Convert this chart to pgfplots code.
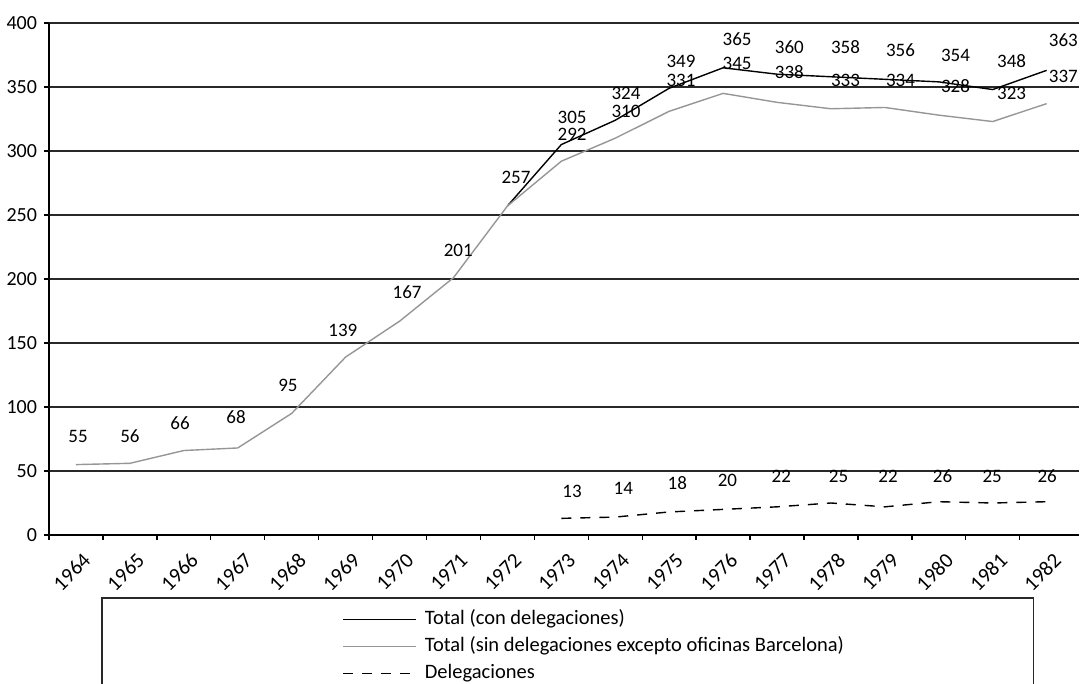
\documentclass[border=0pt]{standalone}
\usepackage{fontspec}
\setmainfont{Carlito}
\usepackage{pgfplots}
\usepackage{pgfplotstable}
\pgfplotsset{compat=1.18}
\definecolor{grisclaro}{RGB}{150,150,150}
\definecolor{rejilla}{RGB}{40,40,40}
\tikzset{lab/.style={font=\fontsize{9.5}{11}\selectfont, inner sep=0pt, anchor=center}}

% x = 0 es 1964, 18 es 1982
\pgfplotstableread{
x y
8 257
9 305
10 324
11 349
12 365
13 360
14 358
15 356
16 354
17 348
18 363
}\condeleg

\pgfplotstableread{
x y
0 55
1 56
2 66
3 68
4 95
5 139
6 167
7 201
8 257
9 292
10 310
11 331
12 345
13 338
14 333
15 334
16 328
17 323
18 337
}\sindeleg

\pgfplotstableread{
x y
9 13
10 14
11 18
12 20
13 22
14 25
15 22
16 26
17 25
18 26
}\deleg

\begin{document}
\begin{tikzpicture}
\begin{axis}[
  name=ax,
  scale only axis,
  width=515pt, height=256pt,
  xmin=-0.5, xmax=18.6, ymin=0, ymax=400,
  axis x line*=bottom, axis y line*=left,
  axis line style={black, line width=0.8pt},
  tick align=outside,
  xtick={0,...,18},
  xticklabels={1964,1965,1966,1967,1968,1969,1970,1971,1972,1973,1974,1975,1976,1977,1978,1979,1980,1981,1982},
  minor xtick={-0.5,0.5,...,17.5},
  major x tick style={draw=none},
  minor x tick style={black, line width=0.7pt},
  minor tick length=2.5pt,
  major tick length=2.5pt,
  ytick={0,50,...,400},
  y tick style={black, line width=0.7pt},
  ymajorgrids,
  grid style={rejilla, line width=0.8pt},
  xticklabel style={rotate=45, anchor=north east, inner sep=1pt, xshift=-1pt, yshift=-5pt,
    font=\fontsize{10.5}{12}\selectfont},
  yticklabel style={font=\fontsize{10}{12}\selectfont},
  /pgf/number format/assume math mode=true,
  legend style={at={(axis description cs:0.2845,-0.1406)}, anchor=north west,
    draw=none, fill=none, inner sep=0pt, row sep=1.5pt,
    nodes={inner sep=1pt, text height=7.5pt, text depth=2.5pt},
    /tikz/every odd column/.append style={column sep=3pt},
    font=\fontsize{10.25}{12}\selectfont},
  legend cell align=left,
  legend image code/.code={\draw[#1] (0pt,0pt) -- (36.5pt,0pt);},
  clip=false,
]
\addplot[black, line width=0.7pt] table[x=x, y=y] {\condeleg};
\addlegendentry{Total (con delegaciones)}
\addplot[grisclaro, line width=0.7pt] table[x=x, y=y] {\sindeleg};
\addlegendentry{Total (sin delegaciones excepto oficinas Barcelona)}
\addplot[black, line width=0.7pt, dash pattern=on 5pt off 4.5pt] table[x=x, y=y] {\deleg};
\addlegendentry{Delegaciones}

% etiquetas de datos
\node[lab] at (axis cs:0.04,77.3) {55};
\node[lab] at (axis cs:1.0,77.3) {56};
\node[lab] at (axis cs:1.93,87.5) {66};
\node[lab] at (axis cs:2.97,92.2) {68};
\node[lab] at (axis cs:3.93,117.2) {95};
\node[lab] at (axis cs:4.95,160.2) {139};
\node[lab] at (axis cs:6.14,189.8) {167};
\node[lab] at (axis cs:7.09,222.7) {201};
\node[lab] at (axis cs:8.16,279.7) {257};

\node[lab] at (axis cs:9.20,326.6) {305};
\node[lab] at (axis cs:10.20,345.3) {324};
\node[lab] at (axis cs:11.22,370.3) {349};
\node[lab] at (axis cs:12.26,387.5) {365};
\node[lab] at (axis cs:13.23,381.3) {360};
\node[lab] at (axis cs:14.27,381.3) {358};
\node[lab] at (axis cs:15.29,378.9) {356};
\node[lab] at (axis cs:16.31,375.0) {354};
\node[lab] at (axis cs:17.35,370.3) {348};
\node[lab] at (axis cs:18.31,386.7) {363};

\node[lab] at (axis cs:9.20,313.3) {292};
\node[lab] at (axis cs:10.20,331.3) {310};
\node[lab] at (axis cs:11.22,355.5) {331};
\node[lab] at (axis cs:12.26,368.8) {345};
\node[lab] at (axis cs:13.23,361.7) {338};
\node[lab] at (axis cs:14.27,355.5) {333};
\node[lab] at (axis cs:15.29,355.5) {334};
\node[lab] at (axis cs:16.31,350.8) {328};
\node[lab] at (axis cs:17.35,345.3) {323};
\node[lab] at (axis cs:18.31,358.6) {337};

\node[lab] at (axis cs:9.20,34.4) {13};
\node[lab] at (axis cs:10.15,36.7) {14};
\node[lab] at (axis cs:11.15,40.6) {18};
\node[lab] at (axis cs:12.08,43.0) {20};
\node[lab] at (axis cs:13.08,46.1) {22};
\node[lab] at (axis cs:14.14,46.1) {25};
\node[lab] at (axis cs:15.06,46.1) {22};
\node[lab] at (axis cs:16.07,46.1) {26};
\node[lab] at (axis cs:16.99,46.1) {25};
\node[lab] at (axis cs:18.01,46.1) {26};

% marco de la leyenda (recortado abajo)
\draw[rejilla, line width=0.8pt]
  (axis description cs:0.0515,-0.34) -- (axis description cs:0.0515,-0.123)
  -- (axis description cs:0.956,-0.123) -- (axis description cs:0.956,-0.34);
\coordinate (sw) at (rel axis cs:0,0);
\end{axis}
\pgfresetboundingbox
\path[use as bounding box, shift={(sw)}] (-24.5pt,-74.5pt) rectangle (515.5pt,267.5pt);
\end{tikzpicture}
\end{document}
